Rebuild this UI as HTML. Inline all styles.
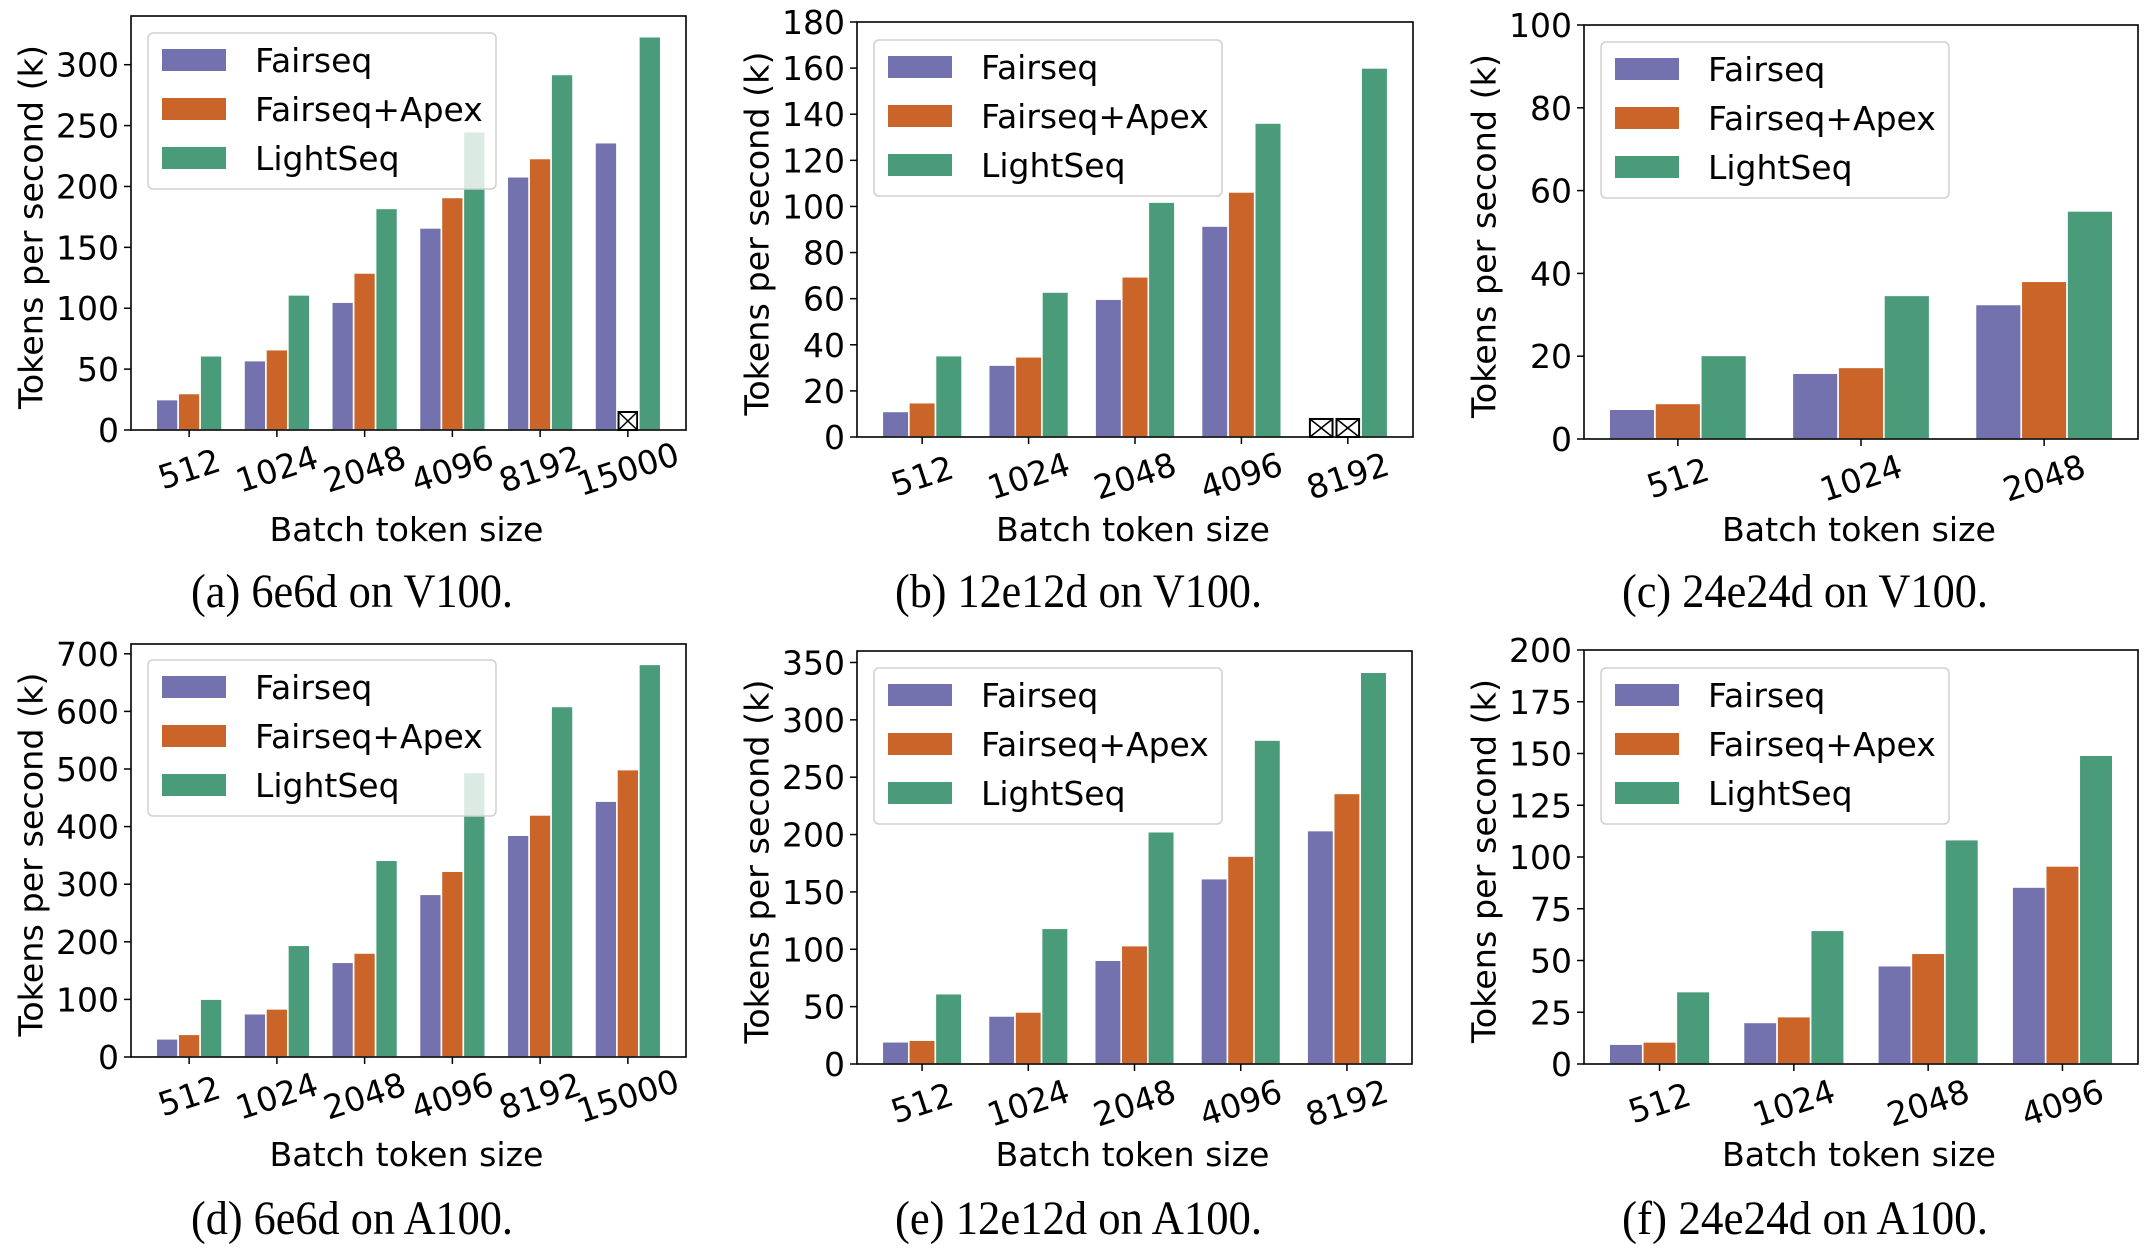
<!DOCTYPE html>
<html><head><meta charset="utf-8">
<style>
html,body{margin:0;padding:0;background:#fff;}
svg{display:block;}
text{font-family:"DejaVu Sans","Liberation Sans",sans-serif;fill:#000;}
.cap{font-family:"Liberation Serif",serif;}
</style></head>
<body>
<svg id="fig" width="2152" height="1254" viewBox="0 0 2152 1254" xmlns="http://www.w3.org/2000/svg"></svg>
<script>
const seriesNames = ["Fairseq", "Fairseq+Apex", "LightSeq"];
const seriesColors = ["#7472ae", "#cb6428", "#4a9b7a"];

const catsA = ["512","1024","2048","4096","8192","15000"];
const fairA = [25,57,105,166,208,236];
const apexA = [30,66,129,191,223,null];
const lightA = [61,111,182,245,292,323];
const ticksA = [0,50,100,150,200,250,300];

const catsB = ["512","1024","2048","4096","8192"];
const fairB = [11.1,31.2,59.8,91.5,null];
const apexB = [14.9,34.8,69.5,106.3,null];
const lightB = [35.3,62.9,101.9,136.2,160.1];
const ticksB = [0,20,40,60,80,100,120,140,160,180];

const catsC = ["512","1024","2048"];
const fairC = [7.2,15.9,32.5];
const apexC = [8.6,17.3,38.1];
const lightC = [20.2,34.7,55.1];
const ticksC = [0,20,40,60,80,100];

const catsD = ["512","1024","2048","4096","8192","15000"];
const fairD = [31.6,75.2,164.5,282.5,385.1,444.2];
const apexD = [39.4,83.6,180.6,322.6,420.3,499];
const lightD = [100.5,194,341.6,494.1,608.6,681.7];
const ticksD = [0,100,200,300,400,500,600,700];

const catsE = ["512","1024","2048","4096","8192"];
const fairE = [19.4,41.9,90.5,161.6,203.5];
const apexE = [20.8,45.4,103.2,181.3,235.9];
const lightE = [61.3,118.3,202.5,282.4,341.5];
const ticksE = [0,50,100,150,200,250,300,350];

const catsF = ["512","1024","2048","4096"];
const fairF = [9.6,20.1,47.5,85.5];
const apexF = [10.7,22.9,53.5,95.7];
const lightF = [35,64.6,108.4,149.2];
const ticksF = [0,25,50,75,100,125,150,175,200];

const NS = "http://www.w3.org/2000/svg";
const fig = document.getElementById("fig");
function mk(tag, attrs, parent){
  const e = document.createElementNS(NS, tag);
  for (const k in attrs) e.setAttribute(k, attrs[k]);
  (parent||fig).appendChild(e);
  return e;
}

function panel(id, caption, cats, series, ticks, ymax, L, R, T, B, legX, legY, capX, capW, capY, xlabY){
  const g = mk("g", {});
  
  
  const n = cats.length;
  const w = 0.25;
  const span = (n - 1) + 3 * w;
  const unit = (R - L) / (span * 1.1);
  const x0 = L + (1.5 * w + 0.05 * span) * unit;
  const xc = i => x0 + unit * i;
  const ys = v => B - (v / ymax) * (B - T);
  const bw = unit * w;
  series.forEach((vals, s) => {
    vals.forEach((v, i) => {
      const cx = xc(i) + (s - 1) * bw;
      if (v === null) {
        const bwid = bw * 0.85, h = 18;
        const bx = cx - bwid/2, by = B - h;
        const m = mk("g", {}, g);
        
        
        mk("rect", {x:bx, y:by, width:bwid, height:h, fill:"#fff", stroke:"#000", "stroke-width":2}, m);
        mk("path", {d:`M${bx} ${by}L${bx+bwid} ${by+h}M${bx+bwid} ${by}L${bx} ${by+h}`, stroke:"#000", "stroke-width":1.5, fill:"none"}, m);
        return;
      }
      const r = mk("rect", {x:cx - bw/2, y:ys(v), width:bw, height:B - ys(v), fill:seriesColors[s], stroke:"#fff", "stroke-width":1.6}, g);
      
      
    });
  });
  ticks.forEach(t => {
    const y = ys(t);
    mk("line", {x1:L-7, x2:L, y1:y, y2:y, stroke:"#000", "stroke-width":1.5}, g);
    const tx = mk("text", {x:L-12, y:y+12, "text-anchor":"end", "font-size":33}, g);
    tx.textContent = t;
    
    
  });
  cats.forEach((c, i) => {
    const x = xc(i);
    mk("line", {x1:x, x2:x, y1:B, y2:B+7, stroke:"#000", "stroke-width":1.5}, g);
    const tx = mk("text", {x:x, y:B+39, "text-anchor":"middle", "dominant-baseline":"central", "font-size":33, transform:`rotate(-18 ${x} ${B+39})`}, g);
    tx.textContent = c;
    
    
  });
  const fr = mk("rect", {x:L, y:T, width:R-L, height:B-T, fill:"none", stroke:"#000", "stroke-width":1.6}, g);
  
  
  const yl = mk("text", {x:0, y:0, "text-anchor":"middle", "dominant-baseline":"central", "font-size":33, textLength:364, lengthAdjust:"spacingAndGlyphs", transform:`translate(${L-100} ${(T+B)/2+4}) rotate(-90)`}, g);
  yl.textContent = "Tokens per second (k)";
  
  
  const xl = mk("text", {x:(L+R)/2 - 2, y:xlabY, "text-anchor":"middle", "font-size":33, textLength:274, lengthAdjust:"spacingAndGlyphs"}, g);
  xl.textContent = "Batch token size";
  
  
  const lg = mk("g", {}, g);
  
  
  mk("rect", {x:legX, y:legY, width:348, height:156, rx:5, fill:"#fff", "fill-opacity":0.8, stroke:"#d0d0d0", "stroke-width":1.5}, lg);
  seriesNames.forEach((nm, s) => {
    const ry = legY + 16 + s * 49;
    const e = mk("g", {}, lg);
    
    
    mk("rect", {x:legX+14, y:ry, width:64, height:22, fill:seriesColors[s]}, e);
    const t = mk("text", {x:legX+107, y:ry+23, "font-size":33}, e);
    t.textContent = nm;
  });
  const cp = mk("text", {x:capX, y:capY, "font-size":48, textLength:capW, lengthAdjust:"spacingAndGlyphs", "class":"cap"}, g);
  cp.textContent = caption;
  
  
}

panel("a", "(a)  6e6d on V100.", catsA, [fairA, apexA, lightA], ticksA, 340, 131, 686, 16, 430, 148, 33, 191, 322, 607, 541);
panel("b", "(b)  12e12d on V100.", catsB, [fairB, apexB, lightB], ticksB, 180, 857, 1413, 22, 437, 874, 40, 895, 367, 607, 541);
panel("c", "(c)  24e24d on V100.", catsC, [fairC, apexC, lightC], ticksC, 100, 1584, 2138, 25, 439, 1601, 42, 1622, 366, 607, 541);
panel("d", "(d)  6e6d on A100.", catsD, [fairD, apexD, lightD], ticksD, 717, 131, 686, 644, 1057, 148, 660, 191, 322, 1234, 1166);
panel("e", "(e)  12e12d on A100.", catsE, [fairE, apexE, lightE], ticksE, 360, 857, 1412, 651, 1064, 874, 668, 895, 367, 1234, 1166);
panel("f", "(f)  24e24d on A100.", catsF, [fairF, apexF, lightF], ticksF, 200, 1584, 2138, 650, 1064, 1601, 668, 1622, 366, 1234, 1166);
</script>
</body></html>
